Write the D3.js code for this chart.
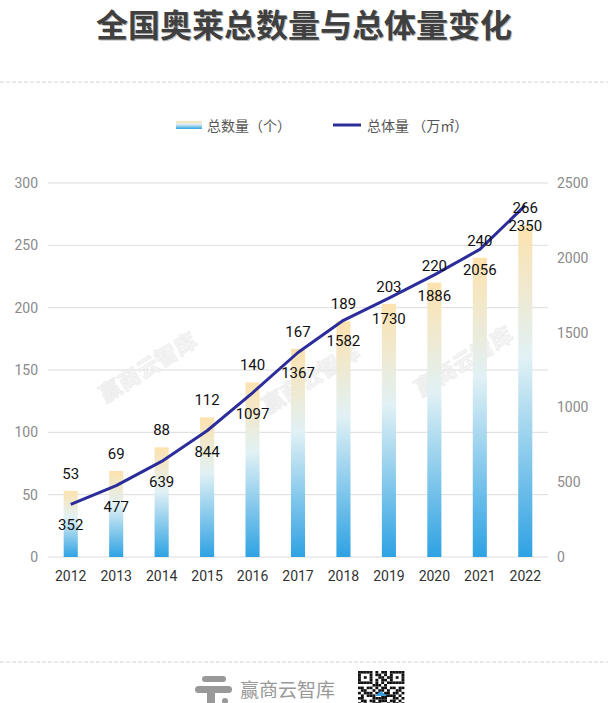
<!DOCTYPE html>
<html><head><meta charset="utf-8">
<script src="https://cdn.jsdelivr.net/npm/d3@7"></script>
<style>
html,body{margin:0;padding:0;background:#fff;}
svg{display:block;font-family:Roboto,"Noto Sans CJK SC",sans-serif;}
</style></head>
<body><svg id="c" width="608" height="703"></svg>
<script>
const years = ["2012","2013","2014","2015","2016","2017","2018","2019","2020","2021","2022"];
const counts = [53,69,88,112,140,167,189,203,220,240,266];
const volumes = [352,477,639,844,1097,1367,1582,1730,1886,2056,2350];
const leftTicks = [0,50,100,150,200,250,300];
const rightTicks = [0,500,1000,1500,2000,2500];
const title = "全国奥莱总数量与总体量变化";
const legendLabels = ["总数量（个）","总体量 （万㎡）"];
const brand = "赢商云智库";

(function(){
const svg = d3.select("#c");
const cjk = "'Noto Sans CJK SC',sans-serif";

// title
svg.append("text").attr("x",304).attr("y",37).attr("text-anchor","middle")
  .attr("font-family",cjk).attr("font-weight","bold").attr("font-size",32)
  .attr("fill","#bbb").attr("transform","translate(1,1)").text(title);
svg.append("text").attr("x",304).attr("y",37).attr("text-anchor","middle")
  .attr("font-family",cjk).attr("font-weight","bold").attr("font-size",32)
  .attr("fill","#404040").text(title);

// dashed separators
[82,662].forEach(y=>svg.append("line").attr("x1",0).attr("x2",608).attr("y1",y).attr("y2",y)
  .attr("stroke","#d4d4d4").attr("stroke-dasharray","4,2"));

// gradient
const defs = svg.append("defs");
["bg","lg"].forEach(id=>{
  const g = defs.append("linearGradient").attr("id",id).attr("x1",0).attr("y1",0).attr("x2",0).attr("y2",1);
  g.append("stop").attr("offset","0%").attr("stop-color","#fde2ae");
  g.append("stop").attr("offset","40%").attr("stop-color","#e1f1f5");
  g.append("stop").attr("offset","100%").attr("stop-color","#2ea2e3");
});

// legend
svg.append("rect").attr("x",176).attr("y",121).attr("width",26).attr("height",8).attr("fill","url(#lg)");
svg.append("text").attr("x",207).attr("y",131).attr("font-family",cjk).attr("font-size",14).attr("fill","#555").text(legendLabels[0]);
svg.append("line").attr("x1",333).attr("x2",361).attr("y1",125).attr("y2",125).attr("stroke","#2b2d9a").attr("stroke-width",3);
svg.append("text").attr("x",367).attr("y",131).attr("font-family",cjk).attr("font-size",14).attr("fill","#555").text(legendLabels[1]);

// scales
const pl = 48, pr = 548, pt = 183, pb = 557;
const x = d3.scaleBand().domain(years).range([pl,pr]).paddingInner(0.69).paddingOuter(0.345);
const yL = d3.scaleLinear().domain([0,300]).range([pb,pt]);
const yR = d3.scaleLinear().domain([0,2500]).range([pb,pt]);

// grid
svg.append("g").selectAll("line").data(leftTicks).join("line")
  .attr("x1",pl).attr("x2",pr).attr("y1",d=>yL(d)).attr("y2",d=>yL(d))
  .attr("stroke","#dcdcdc").attr("stroke-width",1);

// axes
const axL = svg.append("g").attr("transform",`translate(${pl},0)`)
  .call(d3.axisLeft(yL).tickValues(leftTicks).tickSize(0).tickPadding(10).tickFormat(d3.format("d")));
const axR = svg.append("g").attr("transform",`translate(${pr},0)`)
  .call(d3.axisRight(yR).tickValues(rightTicks).tickSize(0).tickPadding(9).tickFormat(d3.format("d")));
const axB = svg.append("g").attr("transform",`translate(0,${pb})`)
  .call(d3.axisBottom(x).tickSize(0).tickPadding(14));
[axL,axR].forEach(a=>{a.select(".domain").remove();
  a.selectAll("text").attr("font-size",14).attr("fill","#8a8a8a").attr("font-family","Roboto");});
axB.select(".domain").remove();
axB.selectAll("text").attr("font-size",14).attr("fill","#333").attr("font-family","Roboto");

// watermarks
[[152,374],[315,385],[468,368]].forEach(([wx,wy])=>{
  svg.append("text").attr("x",wx).attr("y",wy).attr("text-anchor","middle")
    .attr("transform",`rotate(-32,${wx},${wy})`).attr("font-family",cjk).attr("font-weight","bold")
    .attr("font-size",22).attr("fill","#f3f3f3").attr("stroke","#e6e6e6").attr("stroke-width",0.6)
    .attr("opacity",0.8).text(brand);
});

// bars
const data = years.map((y,i)=>({y,c:counts[i],v:volumes[i]}));
svg.append("g").selectAll("rect").data(data).join("rect")
  .attr("x",d=>x(d.y)).attr("width",x.bandwidth())
  .attr("y",d=>yL(d.c)).attr("height",d=>pb-yL(d.c)).attr("fill","url(#bg)");

// line
const cx = d=>x(d.y)+x.bandwidth()/2;
svg.append("path").datum(data).attr("fill","none").attr("stroke","#2b2d9a").attr("stroke-width",3)
  .attr("stroke-linejoin","round")
  .attr("d",d3.line().x(cx).y(d=>yR(d.v)));

// labels
svg.append("g").selectAll("text").data(data).join("text")
  .attr("x",cx).attr("y",d=>yL(d.c)-12).attr("text-anchor","middle")
  .attr("font-family","Roboto").attr("font-size",15).attr("fill","#111").text(d=>d.c);
svg.append("g").selectAll("text").data(data).join("text")
  .attr("x",cx).attr("y",d=>yR(d.v)+26).attr("text-anchor","middle")
  .attr("font-family","Roboto").attr("font-size",15).attr("fill","#111").text(d=>d.v);

// footer logo
const fg = svg.append("g").attr("fill","#999");
fg.append("rect").attr("x",202).attr("y",676).attr("width",24).attr("height",6).attr("rx",3);
fg.append("rect").attr("x",195).attr("y",686).attr("width",37).attr("height",7).attr("rx",3.5);
fg.append("rect").attr("x",207).attr("y",693).attr("width",8).attr("height",10);
fg.append("circle").attr("cx",225).attr("cy",701).attr("r",3);
svg.append("text").attr("x",240).attr("y",697).attr("font-family",cjk).attr("font-size",19)
  .attr("fill","#999").text(brand);

// QR-like mark
const qr = svg.append("g").attr("transform","translate(358,671)");
const qrBits = ["1111101011011111","1000101101010001","1010100110110101","1000101011010001","1111101010111111","0000011101000000","1101101011011011","0110010110100110","1011101101101101","0101110011111010","1100011111001101","0110110111011010","1010011100101101"];
qrBits.forEach((row,r)=>row.split("").forEach((b,c)=>{ if(b==="1") qr.append("rect").attr("x",c*2.9).attr("y",r*2.6).attr("width",2.9).attr("height",2.6).attr("fill","#111"); }));
qr.append("path").attr("d","M17,25 l6,-5 l6,5 z").attr("fill","#3aa0e0");
})();
</script></body></html>
